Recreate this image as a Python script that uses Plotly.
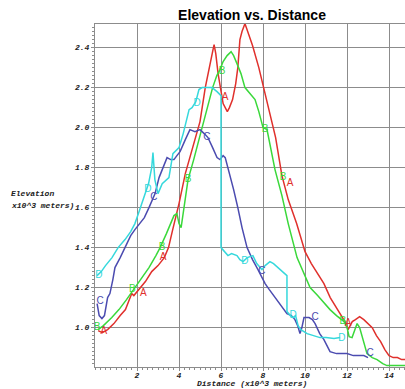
import plotly.graph_objects as go

# ---- data (x in 10^3 m, elevation in 10^3 m) ----
a_x = [0.15,0.35,0.6,0.9,1.2,1.45,1.6,1.75,1.85,2.1,2.4,2.7,3.0,3.3,3.5,3.7,4.0,4.3,4.6,4.8,5.0,5.25,5.4,5.5,5.6,5.67,5.75,5.86,6.0,6.1,6.2,6.3,6.4,6.55,6.7,6.8,6.9,7.0,7.14,7.3,7.5,7.8,8.0,8.3,8.6,8.9,9.2,9.6,10.0,10.3,10.6,10.9,11.2,11.5,11.7,11.9,12.05,12.15,12.25,12.4,12.6,12.8,13.0,13.2,13.4,13.6,13.8,14.0,14.2,14.4,14.6,14.8]
a_y = [0.985,0.975,0.99,1.02,1.06,1.09,1.13,1.17,1.16,1.19,1.23,1.28,1.31,1.35,1.40,1.49,1.62,1.77,1.88,1.96,2.03,2.20,2.27,2.33,2.38,2.415,2.37,2.27,2.19,2.12,2.10,2.08,2.10,2.14,2.22,2.30,2.44,2.48,2.52,2.47,2.41,2.30,2.21,2.08,1.95,1.76,1.64,1.52,1.38,1.32,1.27,1.22,1.15,1.10,1.07,1.03,0.99,1.01,1.03,1.04,1.055,1.04,1.02,1.00,0.96,0.93,0.89,0.86,0.85,0.85,0.84,0.84]

b_x = [0.15,0.4,0.8,1.14,1.5,1.9,2.2,2.57,2.9,3.1,3.4,3.76,3.9,4.0,4.1,4.25,4.43,4.7,5.0,5.2,5.38,5.6,5.8,5.95,6.1,6.29,6.48,6.6,6.76,6.95,7.14,7.4,7.62,7.8,8.0,8.19,8.35,8.57,8.9,9.2,9.62,9.9,10.24,10.6,11.0,11.19,11.5,11.86,12.0,12.1,12.24,12.35,12.48,12.6,12.8,12.95,13.2,13.43,13.7,13.9,14.2,14.8]
b_y = [0.99,1.01,1.05,1.09,1.14,1.20,1.25,1.30,1.36,1.40,1.47,1.56,1.57,1.52,1.50,1.62,1.74,1.84,1.96,2.05,2.12,2.20,2.26,2.29,2.33,2.36,2.38,2.36,2.32,2.27,2.20,2.17,2.14,2.08,2.00,1.99,1.90,1.79,1.66,1.52,1.35,1.28,1.20,1.16,1.11,1.09,1.06,1.03,1.00,0.955,0.95,0.98,1.02,1.00,0.93,0.87,0.85,0.84,0.82,0.81,0.81,0.81]

c_x = [0.1,0.2,0.33,0.45,0.6,0.71,0.85,0.95,1.2,1.43,1.7,1.9,2.14,2.35,2.57,2.86,3.05,3.25,3.43,3.6,3.76,3.9,4.05,4.3,4.52,4.76,5.0,5.2,5.38,5.6,5.81,5.95,6.1,6.2,6.33,6.45,6.6,6.8,7.0,7.24,7.5,7.76,8.1,8.3,8.57,8.9,9.14,9.35,9.52,9.65,9.76,9.85,9.95,10.19,10.35,10.48,10.7,10.9,11.19,11.5,12.0,12.3,12.62,12.8,13.0]
c_y = [1.12,1.06,1.045,1.06,1.15,1.17,1.24,1.30,1.35,1.40,1.46,1.49,1.52,1.55,1.60,1.67,1.75,1.80,1.85,1.84,1.84,1.86,1.88,1.94,1.99,1.98,1.99,1.97,1.95,1.90,1.85,1.84,1.86,1.85,1.80,1.76,1.69,1.60,1.50,1.40,1.34,1.29,1.22,1.19,1.15,1.10,1.07,1.06,1.04,1.01,0.97,1.00,1.05,1.05,1.04,1.02,0.97,0.94,0.88,0.87,0.87,0.86,0.86,0.86,0.85]

d_x = [0.1,0.3,0.5,0.81,1.1,1.43,1.7,1.9,2.1,2.38,2.55,2.7,2.76,2.85,3.0,3.2,3.52,3.71,4.0,4.2,4.48,4.62,4.8,4.95,5.1,5.3,5.57,5.81,6.0,6.0,6.15,6.33,6.5,6.76,6.9,7.05,7.25,7.52,7.7,7.95,8.1,8.33,8.5,8.71,8.9,9.14,9.14,9.3,9.43,9.55,9.67,9.8,10.1,10.4,10.71,11.0,11.38,11.67]
d_y = [1.26,1.28,1.31,1.35,1.40,1.44,1.48,1.52,1.58,1.67,1.72,1.80,1.875,1.74,1.67,1.72,1.75,1.87,1.90,1.97,2.09,2.10,2.13,2.19,2.20,2.20,2.20,2.18,2.16,1.40,1.38,1.36,1.37,1.36,1.34,1.33,1.35,1.36,1.32,1.29,1.31,1.33,1.32,1.30,1.28,1.26,1.08,1.06,1.05,1.06,1.01,0.99,0.97,0.96,0.95,0.95,0.945,0.95]

# curve label letters
a_lx = [0.42, 2.3, 3.24, 6.19, 9.29, 12.05]
a_ly = [0.98, 1.17, 1.35, 2.15, 1.72, 1.02]
b_lx = [0.1, 1.78, 3.2, 4.43, 6.05, 8.1, 8.95, 11.8]
b_ly = [1.0, 1.19, 1.40, 1.74, 2.28, 1.99, 1.75, 1.03]
c_lx = [0.24, 2.8, 5.33, 7.95, 10.48, 13.1]
c_ly = [1.13, 1.65, 1.95, 1.28, 1.05, 0.87]
d_lx = [0.19, 2.52, 4.86, 7.14, 9.43, 11.76]
d_ly = [1.26, 1.69, 2.12, 1.33, 1.06, 0.945]

x_ticks = [2, 4, 6, 8, 10, 12, 14]
y_ticks = [1.0, 1.2, 1.4, 1.6, 1.8, 2.0, 2.2, 2.4]

series = [
    ("A", a_x, a_y, a_lx, a_ly, "#e0302c"),
    ("B", b_x, b_y, b_lx, b_ly, "#3ad83a"),
    ("C", c_x, c_y, c_lx, c_ly, "#4b4bb0"),
    ("D", d_x, d_y, d_lx, d_ly, "#35d8dc"),
]

fig = go.Figure()
for name, xs, ys, lx, ly, col in series:
    fig.add_trace(go.Scatter(x=xs, y=ys, mode="lines", line=dict(color=col, width=1.5),
                             showlegend=False, hoverinfo="skip"))
for name, xs, ys, lx, ly, col in series:
    fig.add_trace(go.Scatter(x=lx, y=ly, mode="text", text=[name] * len(lx),
                             textfont=dict(family="Liberation Sans", size=10, color=col),
                             showlegend=False, hoverinfo="skip"))

tickfont = dict(family="Liberation Mono", size=8, color="#222", weight="bold", style="italic")
L, R, T, B = 95, 0, 24, 22
W, H = 405, 389
pw, ph = W - L - R, H - T - B

fig.update_layout(
    width=W, height=H,
    margin=dict(l=L, r=R, t=T, b=B),
    paper_bgcolor="white", plot_bgcolor="white",
    title=dict(text="<b>Elevation vs. Distance</b>", x=(252) / W, xanchor="center",
               y=1 - 15 / H, yanchor="middle",
               font=dict(family="Liberation Sans", size=14, color="black")),
    xaxis=dict(range=[0, 14.76], tickvals=x_ticks, ticktext=[str(v) for v in x_ticks],
               showgrid=True, gridcolor="#8c8c8c", gridwidth=1,
               showline=True, linecolor="#8c8c8c", linewidth=1, mirror=True,
               ticks="outside", ticklen=3, tickcolor="#8c8c8c", tickfont=tickfont,
               ticklabelstandoff=-3,
               minor=dict(dtick=0.25, tick0=0, ticks="outside", ticklen=2, tickcolor="#8c8c8c", showgrid=False),
               zeroline=False),
    yaxis=dict(range=[0.803, 2.518], tickvals=y_ticks, ticktext=["%.1f" % v for v in y_ticks],
               showgrid=True, gridcolor="#8c8c8c", gridwidth=1,
               showline=True, linecolor="#8c8c8c", linewidth=1, mirror=True,
               ticks="outside", ticklen=3, tickcolor="#8c8c8c", tickfont=tickfont,
               minor=dict(dtick=0.02, tick0=0, ticks="outside", ticklen=2, tickcolor="#8c8c8c", showgrid=False),
               zeroline=False),
)

labfont = dict(family="Liberation Mono", size=8, color="#222", weight="bold", style="italic")
fig.add_annotation(text="Elevation", xref="paper", yref="paper",
                   x=(9 - L) / pw, y=(H - B - 193) / ph, xanchor="left", yanchor="middle",
                   showarrow=False, font=labfont)
fig.add_annotation(text="x10^3 meters)", xref="paper", yref="paper",
                   x=(9 - L) / pw, y=(H - B - 205) / ph, xanchor="left", yanchor="middle",
                   showarrow=False, font=labfont)
fig.add_annotation(text="Distance (x10^3 meters)", xref="paper", yref="paper",
                   x=(252 - L) / pw, y=(H - B - 384) / ph, xanchor="center", yanchor="middle",
                   showarrow=False, font=labfont)

fig.write_html("out.html")
